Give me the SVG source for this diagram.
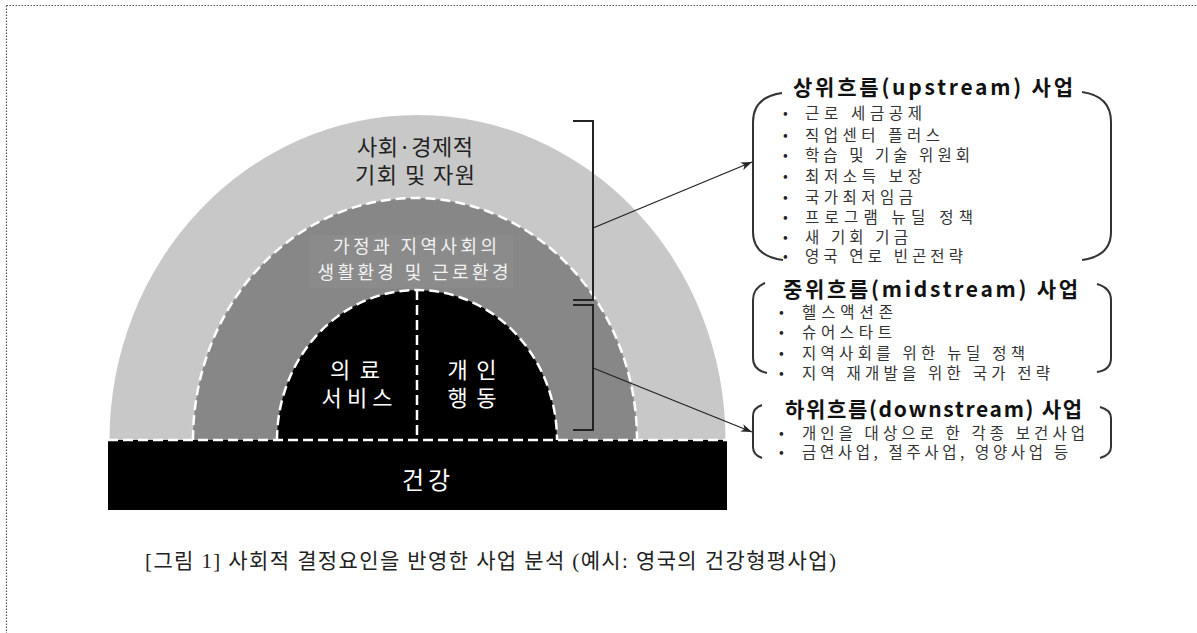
<svg xmlns="http://www.w3.org/2000/svg" width="1197" height="633" viewBox="0 0 1197 633">
<defs>
<style>
.k{font-family:"Noto Sans CJK KR","Noto Sans",sans-serif}
.h{font-size:21px;font-weight:bold;fill:#111}
.it{font-size:15.5px;fill:#333}
.b{font-size:14px;fill:#222}
.lbl{font-size:22px;text-anchor:middle}
.dash{fill:none;stroke:#fff;stroke-width:2.5;stroke-dasharray:10 5}
.br{fill:none;stroke:#222;stroke-width:2}
.par{fill:none;stroke:#333;stroke-width:2}
.ar{fill:none;stroke:#222;stroke-width:1.3}
</style>
<marker id="ah" markerUnits="userSpaceOnUse" markerWidth="12" markerHeight="10" refX="11" refY="5" orient="auto">
<path d="M0,1 L11,5 L0,9 L3,5 Z" fill="#222"/>
</marker>
</defs>
<rect width="1197" height="633" fill="#fff"/>
<path d="M6.5,5.5 H1197 M6.5,5.5 V633" fill="none" stroke="#555" stroke-width="1.2" stroke-dasharray="1.5 1.5"/>

<g id="outer-band">
<path d="M109.5,440 A308,325 0 0 1 725.5,440 Z" fill="#c8c8c8"/>
<text class="k lbl" x="415" y="155" fill="#222" textLength="116">사회·경제적</text>
<text class="k lbl" x="415" y="183" fill="#222" textLength="120">기회 및 자원</text>
</g>

<g id="middle-band">
<path d="M193,440 A222,242 0 0 1 637,440 Z" fill="#878787"/>
<path class="dash" d="M193,440 A222,242 0 0 1 637,440"/>
<rect x="310" y="235" width="203" height="53" fill="#8b8b8b"/>
<text class="k" x="415" y="253" font-size="18" text-anchor="middle" fill="#f2f2f2" textLength="164">가정과 지역사회의</text>
<text class="k" x="413" y="279" font-size="18" text-anchor="middle" fill="#f2f2f2" textLength="191">생활환경 및 근로환경</text>
</g>

<g id="inner-core">
<path d="M277,440 A140,150 0 0 1 557,440 Z" fill="#000"/>
<path class="dash" d="M277,440 A140,150 0 0 1 557,440"/>
<path class="dash" d="M417,290 V440"/>
<text class="k lbl" x="355" y="378" fill="#fff" textLength="50">의료</text>
<text class="k lbl" x="357" y="406" fill="#fff" textLength="71">서비스</text>
<text class="k lbl" x="472" y="378" fill="#fff" textLength="49">개인</text>
<text class="k lbl" x="472" y="406" fill="#fff" textLength="49">행동</text>
</g>

<g id="health-bar">
<rect x="108" y="440" width="619" height="70" fill="#000"/>
<path class="dash" d="M108,440 H727"/>
<text class="k" x="426" y="489" font-size="24" text-anchor="middle" fill="#fff" textLength="48">건강</text>
</g>

<g id="connectors">
<path class="br" d="M573,121 H593 V300 H573"/>
<path class="br" d="M573,305 H593 V430 H573"/>
<path class="ar" d="M593,228 L752,162" marker-end="url(#ah)"/>
<path class="ar" d="M593,368 L752,432" marker-end="url(#ah)"/>
</g>

<g id="upstream">
<path class="par" d="M782,93 Q753,97 753,122 V232 Q753,256 783,260"/>
<path class="par" d="M1082,92 Q1111,96 1111,122 V232 Q1111,256 1082,260"/>
<text class="k h" x="793" y="95" textLength="280">상위흐름(upstream) 사업</text>
<text class="k b" x="783" y="118">•</text>
<text class="k b" x="783" y="140">•</text>
<text class="k b" x="783" y="160">•</text>
<text class="k b" x="783" y="181">•</text>
<text class="k b" x="783" y="202">•</text>
<text class="k b" x="783" y="222">•</text>
<text class="k b" x="783" y="242">•</text>
<text class="k b" x="783" y="261">•</text>
<text class="k it" x="805" y="119" textLength="117">근로 세금공제</text>
<text class="k it" x="805" y="141" textLength="135">직업센터 플러스</text>
<text class="k it" x="805" y="161" textLength="165">학습 및 기술 위원회</text>
<text class="k it" x="805" y="182" textLength="117">최저소득 보장</text>
<text class="k it" x="805" y="203" textLength="108">국가최저임금</text>
<text class="k it" x="805" y="223" textLength="168">프로그램 뉴딜 정책</text>
<text class="k it" x="805" y="243" textLength="103">새 기회 기금</text>
<text class="k it" x="805" y="262" textLength="158">영국 연로 빈곤전략</text>
</g>

<g id="midstream">
<path class="par" d="M765,283 Q753,288 753,300 V358 Q753,370 767,373"/>
<path class="par" d="M1097,284 Q1111,288 1111,300 V358 Q1111,370 1097,372"/>
<text class="k h" x="783" y="297" textLength="295">중위흐름(midstream) 사업</text>
<text class="k b" x="779" y="317">•</text>
<text class="k b" x="779" y="337">•</text>
<text class="k b" x="779" y="358">•</text>
<text class="k b" x="779" y="378">•</text>
<text class="k it" x="802" y="318" textLength="91">헬스액션존</text>
<text class="k it" x="802" y="338" textLength="90">슈어스타트</text>
<text class="k it" x="802" y="359" textLength="223">지역사회를 위한 뉴딜 정책</text>
<text class="k it" x="802" y="379" textLength="248">지역 재개발을 위한 국가 전략</text>
</g>

<g id="downstream">
<path class="par" d="M762,405 Q753,408 753,416 V447 Q753,455 762,458"/>
<path class="par" d="M1100,407 Q1111,410 1111,418 V447 Q1111,455 1100,458"/>
<text class="k h" x="785" y="417" textLength="297">하위흐름(downstream) 사업</text>
<text class="k b" x="779" y="438">•</text>
<text class="k b" x="779" y="457">•</text>
<text class="k it" x="802" y="439" textLength="283">개인을 대상으로 한 각종 보건사업</text>
<text class="k it" x="802" y="458" textLength="266">금연사업, 절주사업, 영양사업 등</text>
</g>

<text x="145" y="568" font-family="'Liberation Serif','Noto Sans CJK KR',serif" font-size="21" fill="#222" textLength="691">[그림 1] 사회적 결정요인을 반영한 사업 분석 (예시: 영국의 건강형평사업)</text>
</svg>
